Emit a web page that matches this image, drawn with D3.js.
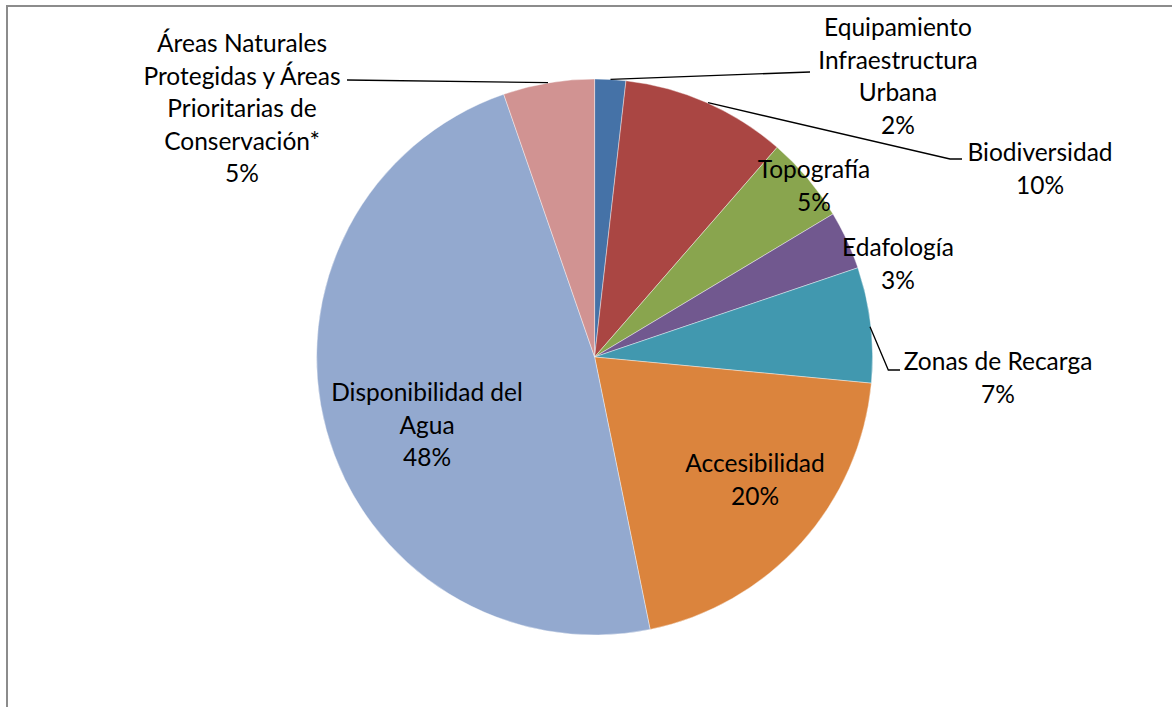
<!DOCTYPE html>
<html>
<head>
<meta charset="utf-8">
<script src="https://cdn.jsdelivr.net/npm/d3@7"></script>
<style>
  html, body { margin: 0; padding: 0; background: #fff; }
  svg { display: block; }
  text { font-family: Lato, "Noto Sans", sans-serif; fill: #000; }
</style>
</head>
<body>
<svg id="chart" width="1172" height="707"></svg>
<script>
// Criteria weights (share of the total), clockwise from 12 o'clock
const categories = [
  "Equipamiento Infraestructura Urbana",
  "Biodiversidad",
  "Topografía",
  "Edafología",
  "Zonas de Recarga",
  "Accesibilidad",
  "Disponibilidad del Agua",
  "Áreas Naturales Protegidas y Áreas Prioritarias de Conservación*"
];
const values = [1.8, 9.6, 5.0, 3.4, 6.7, 20.3, 47.9, 5.3];
const colors = ["#4572A7", "#AA4643", "#89A54E", "#71588F", "#4198AF", "#DB843D", "#93A9CF", "#D19392"];

// Label text lines per slice (category name wrapped as displayed)
const labelLines = [
  ["Equipamiento", "Infraestructura", "Urbana"],
  ["Biodiversidad"],
  ["Topografía"],
  ["Edafología"],
  ["Zonas de Recarga"],
  ["Accesibilidad"],
  ["Disponibilidad del", "Agua"],
  ["Áreas Naturales", "Protegidas y Áreas", "Prioritarias de", "Conservación*"]
];

const svg = d3.select("#chart");
const W = 1172, H = 707;

// chart area frame
svg.append("rect")
  .attr("x", 7).attr("y", 6)
  .attr("width", W + 10).attr("height", H + 10)
  .attr("fill", "none").attr("stroke", "#8c8c8c").attr("stroke-width", 2);

const cx = 594.6, cy = 357, R = 278;
const total = d3.sum(values);
const pct = d3.format(".0%");

const data = categories.map((c, i) => ({ name: c, value: values[i], color: colors[i], lines: labelLines[i] }));
const pie = d3.pie().value(d => d.value).sort(null);
const arcs = pie(data);
const arc = d3.arc().innerRadius(0).outerRadius(R);

const g = svg.append("g").attr("transform", `translate(${cx},${cy})`);
g.selectAll("path.slice").data(arcs).join("path")
  .attr("class", "slice")
  .attr("d", arc)
  .attr("fill", d => d.data.color)
  .attr("stroke", "#ffffff")
  .attr("stroke-opacity", 0.5)
  .attr("stroke-width", 0.8);

// Label placement (label block centre, in page coordinates) and leader lines
const labelPos = [
  { x: 898, y: 28 },
  { x: 1040, y: 153 },
  { x: 814, y: 170 },
  { x: 898, y: 248 },
  { x: 998, y: 362 },
  { x: 755, y: 464 },
  { x: 427, y: 393 },
  { x: 242, y: 44 }
];
const leaders = [
  [[610.5, 79.3], [810, 72]],
  [[708, 102.7], [950, 159], [962, 159]],
  null,
  null,
  [[870, 326.7], [888.3, 370], [900, 370]],
  null,
  null,
  [[548, 82.7], [347, 80]]
];

const line = d3.line();
leaders.forEach(pts => {
  if (!pts) return;
  svg.append("path")
    .attr("d", line(pts))
    .attr("fill", "none")
    .attr("stroke", "#000")
    .attr("stroke-width", 1.3);
});

const lineH = 32.5;
arcs.forEach((a, i) => {
  const lines = a.data.lines.concat([pct(a.data.value / total)]);
  const t = svg.append("text")
    .attr("text-anchor", "middle")
    .attr("font-size", 24.5);
  lines.forEach((s, k) => {
    t.append("tspan")
      .attr("x", labelPos[i].x)
      .attr("y", labelPos[i].y + k * lineH + 8)
      .text(s);
  });
});
</script>
</body>
</html>
